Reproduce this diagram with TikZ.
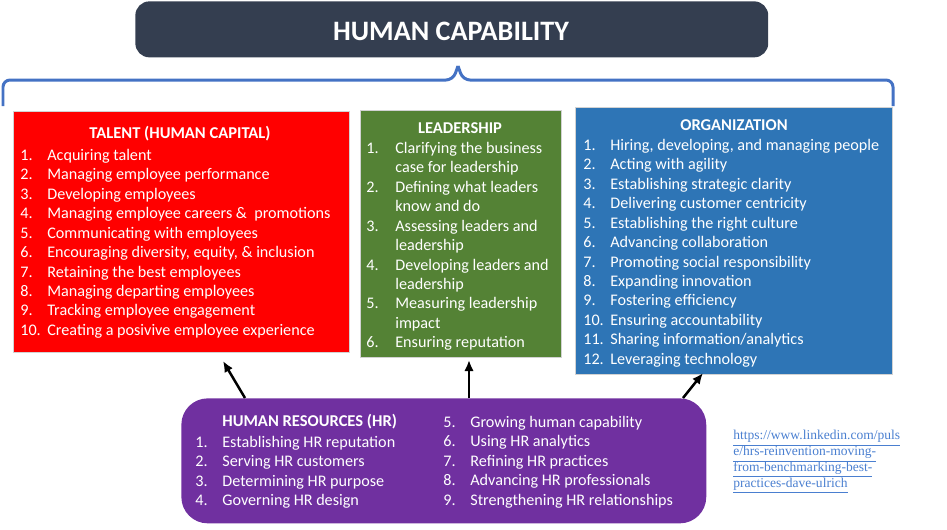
\documentclass[tikz,border=0pt]{standalone}
\usepackage{fontspec}
\setmainfont{Carlito}
\newfontfamily\linkfont{Liberation Serif}
\usetikzlibrary{positioning,calc,arrows.meta}

\definecolor{capgray}{HTML}{343E50}
\definecolor{talentred}{HTML}{FF0000}
\definecolor{leadgreen}{HTML}{548235}
\definecolor{orgblue}{HTML}{2E75B6}
\definecolor{hrpurple}{HTML}{7030A0}
\definecolor{bracecol}{HTML}{4472C4}
\definecolor{linkcol}{HTML}{4A7FD0}

\tikzset{
  areabox/.style={anchor=north west, draw=gray!35, line width=.5pt, inner sep=0pt},
  boxhead/.style={text=white, font=\fontsize{9.4}{11.06}\selectfont\bfseries, inner sep=0pt},
  boxlist/.style={anchor=north west, text=white, inner sep=0pt, font=\fontsize{9.2}{11.06}\selectfont},
  hrarrow/.style={-{Latex[length=2.2mm,width=1.9mm]}, line width=.5mm, black},
}

\newcommand{\numcol}{p{0.54cm}@{}l}

\begin{document}
\begin{tikzpicture}[x=0.02cm, y=-0.02cm]
        \useasboundingbox (0, 0) rectangle (947, 529);

        %%title
        \node[anchor=north west, fill=capgray, rounded corners=8pt, minimum width=12.66cm, minimum height=1.12cm, inner sep=0pt] (cap) at(135, 1){};
        \node[text=white, font=\fontsize{16}{19}\selectfont\bfseries] (captext) at(451, 31){HUMAN CAPABILITY};

        %%brace
        \draw[bracecol, line width=.6mm, rounded corners=4pt](3, 106) to (3, 80) to (453, 80) to (458, 66);
        \draw[bracecol, line width=.6mm, rounded corners=4pt](893, 106) to (893, 80) to (463, 80) to (458, 66);

        %%talent
        \node[areabox, fill=talentred, minimum width=6.72cm, minimum height=4.82cm] (talent) at(13, 111){};
        \node[boxhead] (talenthead) at(180, 134){TALENT (HUMAN CAPITAL)};
        \node[boxlist] (talentlist) at(20, 146.5){\begin{tabular}{@{}\numcol@{}}
            1. & Acquiring talent\\
            2. & Managing employee performance\\
            3. & Developing employees\\
            4. & Managing employee careers \&\ \ promotions\\
            5. & Communicating with employees\\
            6. & Encouraging diversity, equity, \& inclusion\\
            7. & Retaining the best employees\\
            8. & Managing departing employees\\
            9. & Tracking employee engagement\\
            10. & Creating a posivive employee experience
        \end{tabular}};

        %%leadership
        \node[areabox, fill=leadgreen, minimum width=4.02cm, minimum height=4.94cm] (leader) at(360, 110){};
        \node[boxhead] (leaderhead) at(460, 128){LEADERSHIP};
        \node[boxlist] (leaderlist) at(366, 139.5){\begin{tabular}{@{}p{0.58cm}@{}l@{}}
            1. & Clarifying the business\\
               & case for leadership\\
            2. & Defining what leaders\\
               & know and do\\
            3. & Assessing leaders and\\
               & leadership\\
            4. & Developing leaders and\\
               & leadership\\
            5. & Measuring leadership\\
               & impact\\
            6. & Ensuring reputation
        \end{tabular}};

        %%organization
        \node[areabox, fill=orgblue, minimum width=6.34cm, minimum height=5.34cm] (org) at(575, 107){};
        \node[boxhead] (orghead) at(734, 125){ORGANIZATION};
        \node[boxlist] (orglist) at(583, 136.5){\begin{tabular}{@{}\numcol@{}}
            1. & Hiring, developing, and managing people\\
            2. & Acting with agility\\
            3. & Establishing strategic clarity\\
            4. & Delivering customer centricity\\
            5. & Establishing the right culture\\
            6. & Advancing collaboration\\
            7. & Promoting social responsibility\\
            8. & Expanding innovation\\
            9. & Fostering efficiency\\
            10. & Ensuring accountability\\
            11. & Sharing information/analytics\\
            12. & Leveraging technology
        \end{tabular}};

        %%human resources
        \node[anchor=north west, fill=hrpurple, rounded corners=15pt, minimum width=10.5cm, minimum height=2.5cm, inner sep=0pt] (hr) at(181, 398){};
        \node[boxhead, anchor=west] (hrhead) at(222, 422){HUMAN RESOURCES (HR)};
        \node[boxlist] (hrleft) at(195, 433.5){\begin{tabular}{@{}\numcol@{}}
            1. & Establishing HR reputation\\
            2. & Serving HR customers\\
            3. & Determining HR purpose\\
            4. & Governing HR design
        \end{tabular}};
        \node[boxlist] (hrright) at(443, 413.5){\begin{tabular}{@{}\numcol@{}}
            5. & Growing human capability\\
            6. & Using HR analytics\\
            7. & Refining HR practices\\
            8. & Advancing HR professionals\\
            9. & Strengthening HR relationships
        \end{tabular}};

        %%arrows
        \coordinate (tip1) at(223, 361);
        \coordinate (tip2) at(469, 360);
        \coordinate (tip3) at(703, 373);
            \draw[hrarrow]($(hr.north west)+(64, 0)$) to (tip1);
            \draw[hrarrow](hr.north -| tip2) to (tip2);
            \draw[hrarrow]($(hr.north west)+(502, 0)$) to (tip3);

        %%link
        \node[anchor=north west, inner sep=0pt, text=linkcol, font=\linkfont\fontsize{7.7}{9.9}\selectfont] (link) at(733, 427){\begin{tabular}{@{}l@{}}
            \underline{https://www.linkedin.com/puls}\\[-1.5pt]
            \underline{e/hrs-reinvention-moving-}\\[-1.5pt]
            \underline{from-benchmarking-best-}\\[-1.5pt]
            \underline{practices-dave-ulrich}
        \end{tabular}};
\end{tikzpicture}
\end{document}
